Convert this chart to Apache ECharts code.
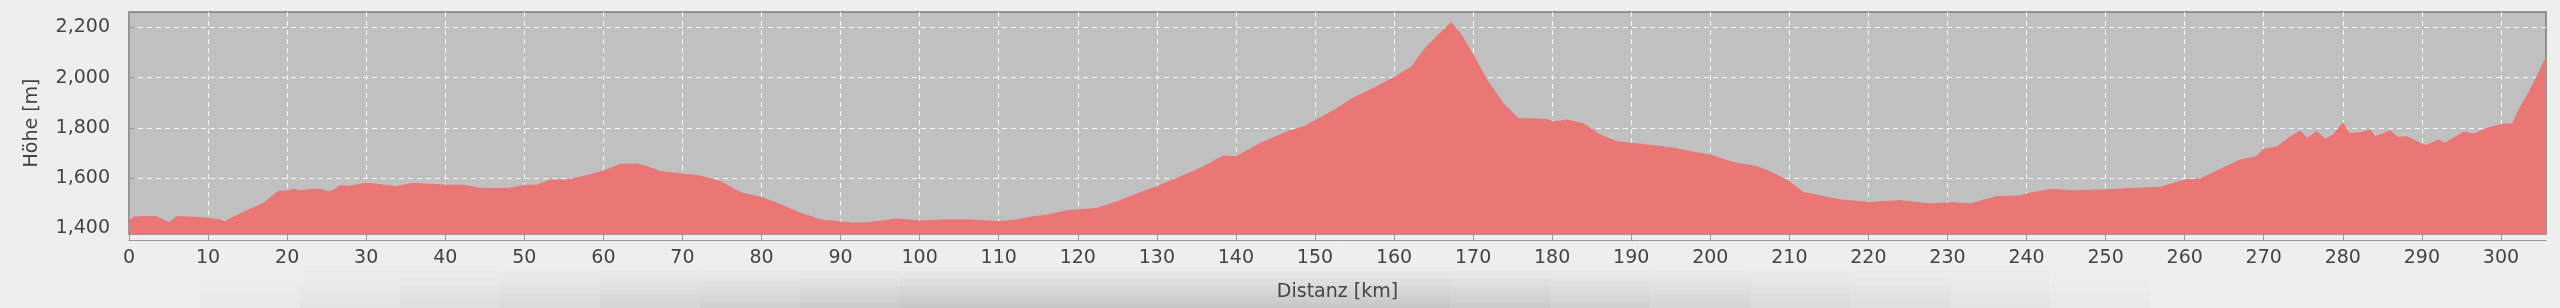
<!DOCTYPE html>
<html>
<head>
<meta charset="utf-8">
<script src="https://cdn.jsdelivr.net/npm/echarts@6/dist/echarts.min.js"></script>
<style>
html,body{margin:0;padding:0;background:#eeeeee;}
#c{width:2560px;height:308px;}
</style>
</head>
<body>
<div id="c"></div>
<script>
const distanceKm = [0,0.5,2,3.5,4.3,5.1,6.0,8.1,10,11.5,12.1,13.2,14.9,17,18.9,20,20.8,21.6,23.3,24.3,25.2,25.8,26.7,27.9,30,31.3,33.8,35.9,40,42.3,44.4,47.8,50,51.6,53.3,55.4,57.9,60,62.2,64.3,65.5,67.2,70,72.3,74.8,77.4,80,82.5,85,87.5,90,91.7,93.4,95.1,97.1,100,103,106.4,110,112.3,114,116.1,118.6,120,122.4,125,127.5,130,132.5,135.5,138.4,140,143.1,146.5,148.6,150,152.8,154.9,157.4,160,162.2,164.1,165.8,167.2,168.4,170,171.7,173.8,175.7,177.6,179.3,180.2,181.9,184,186.1,188.2,190,193.2,195.4,197.9,200,203,205.9,208,210,211.8,213.1,214.8,216.5,220,224,227.8,230.8,232.9,236.2,239.2,240,243,246,250,252.7,256.9,260,262,264.5,267,269,270,271.7,273.4,274.6,275.5,276.7,277.8,278.8,280,280.8,282.2,283.5,284.1,286,286.9,288.1,290,290.6,292.1,292.9,295.3,296.5,298.6,300.5,301.4,302.5,303.7,305.7];
const elevationM = [1425,1443,1446,1445,1432,1421,1445,1443,1439,1432,1425,1443,1469,1498,1547,1547,1555,1549,1554,1554,1545,1549,1569,1567,1578,1575,1565,1578,1571,1571,1558,1557,1570,1571,1591,1591,1609,1627,1654,1655,1645,1625,1615,1607,1585,1541,1522,1492,1458,1432,1424,1419,1421,1427,1436,1428,1432,1432,1425,1432,1443,1451,1469,1472,1478,1505,1536,1565,1598,1638,1687,1684,1738,1784,1804,1828,1877,1920,1957,2001,2043,2123,2176,2220,2176,2090,1993,1897,1837,1835,1833,1823,1831,1815,1771,1744,1738,1727,1718,1702,1691,1660,1645,1618,1585,1541,1534,1522,1512,1502,1509,1496,1501,1496,1525,1528,1536,1554,1549,1552,1557,1562,1591,1596,1634,1671,1684,1714,1724,1764,1787,1758,1784,1754,1771,1820,1777,1780,1791,1764,1788,1762,1764,1735,1730,1751,1738,1783,1775,1801,1816,1813,1884,1950,2080];
const xTicks = [0,10,20,30,40,50,60,70,80,90,100,110,120,130,140,150,160,170,180,190,200,210,220,230,240,250,260,270,280,290,300];
const yTicks = [1400,1600,1800,2000,2200];
const xAxisTitle = 'Distanz [km]';
const yAxisTitle = 'Höhe [m]';

const points = distanceKm.map((d, i) => [d, elevationM[i]]);
const chart = echarts.init(document.getElementById('c'), null, {renderer: 'canvas'});
const font = 'DejaVu Sans';

// soft bottom shadow: stacked faint rects
const shadow = [];
for (let i = 0; i < 8; i++) {
  const inset = i * 100;
  shadow.push({
    type: 'rect', silent: true, z: -10,
    shape: {x: 200 + inset, y: 266, width: 1950 - 2 * inset, height: 42},
    style: {fill: new echarts.graphic.LinearGradient(0, 0, 0, 1, [
      {offset: 0, color: 'rgba(0,0,0,0)'}, {offset: 1, color: 'rgba(0,0,0,0.022)'}])}
  });
}

chart.setOption({
  animation: false,
  backgroundColor: '#eeeeee',
  graphic: shadow,
  grid: {left: 129, right: 14, top: 12, bottom: 74, show: true, backgroundColor: '#c0c0c0', borderColor: '#7a7a7a', borderWidth: 1.5},
  xAxis: {
    type: 'value', min: 0, max: 305.7, offset: 6,
    name: xAxisTitle, nameLocation: 'middle', nameGap: 43,
    nameTextStyle: {fontFamily: font, fontSize: 19, color: '#444'},
    axisLine: {show: true, lineStyle: {color: '#999', width: 1}},
    axisTick: {show: true, inside: true, length: 5, lineStyle: {color: '#999'}, customValues: xTicks},
    axisLabel: {fontFamily: font, fontSize: 19, color: '#444', margin: 9, customValues: xTicks},
    splitLine: {show: true, lineStyle: {color: 'rgba(255,255,255,0.85)', type: [5,4], width: 1}}
  },
  yAxis: {
    type: 'value', min: 1376, max: 2262, offset: 7,
    name: yAxisTitle, nameLocation: 'middle', nameGap: 80, nameRotate: 90,
    nameTextStyle: {fontFamily: font, fontSize: 19, color: '#444'},
    axisLine: {show: true, lineStyle: {color: '#999', width: 1}},
    axisTick: {show: true, inside: true, length: 5, lineStyle: {color: '#999'}, customValues: yTicks},
    axisLabel: {fontFamily: font, fontSize: 19, color: '#444', margin: 12, customValues: yTicks,
      formatter: v => v.toLocaleString('en-US')},
    splitLine: {show: true, lineStyle: {color: 'rgba(255,255,255,0.85)', type: [5,4], width: 1}}
  },
  series: [{
    type: 'line', data: points, showSymbol: false, smooth: false,
    lineStyle: {color: '#e87575', width: 1},
    areaStyle: {color: '#ea7676', opacity: 1},
    z: 1
  }]
});
</script>
</body>
</html>
